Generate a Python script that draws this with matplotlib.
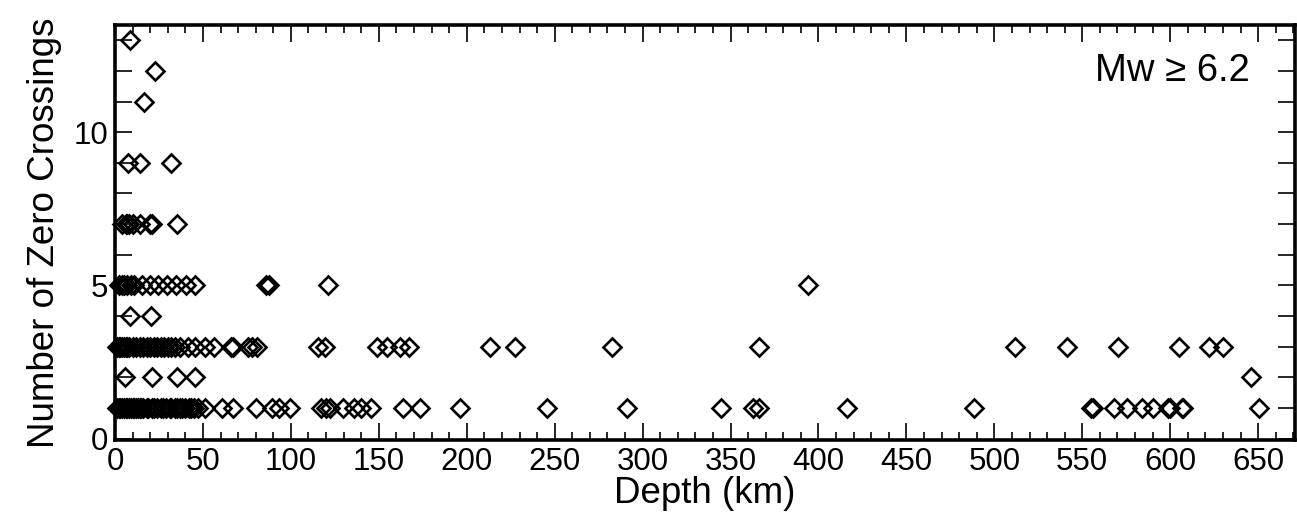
import matplotlib
matplotlib.use("Agg")
import matplotlib.pyplot as plt
from matplotlib.ticker import MultipleLocator

plt.rcParams['font.family'] = ['Liberation Sans', 'DejaVu Sans']

# Depth (km) of events, grouped by number of zero crossings
crossings_levels = [1, 2, 3, 4, 5, 7, 9, 11, 12, 13]

depth_n1 = [1, 2, 3, 4, 5, 6, 7, 8, 9, 10, 11, 12, 13, 14, 15, 16, 18, 19, 21, 22,
            24, 26, 27, 29, 31, 32, 34, 35, 37, 38, 40, 42, 43, 45, 47,
            51, 61, 67, 80, 89, 93, 99.6, 117, 120, 122, 129.5, 136, 140, 145.5,
            164, 173.5, 196, 245.5, 291, 344.5, 363, 366, 416, 488.5,
            555, 556, 568, 575.5, 584, 590.5, 599, 600, 606.5, 607.5, 650.5]
depth_n2 = [5.5, 21, 35, 45.5, 646]
depth_n3 = [1, 2, 3, 4, 5, 6, 7, 8, 10, 12, 14, 16, 18, 20, 22, 24, 26, 28, 30,
            32, 34, 37, 41.5, 45.5, 51, 56, 66, 67, 75.5, 78, 80.5, 115.5, 119.5,
            149, 154.5, 162, 167, 213, 227.5, 282.5, 366, 512, 541.5, 570.5,
            605, 622, 630]
depth_n4 = [8.5, 20.5]
depth_n5 = [2, 4, 5, 7, 9, 11, 15.5, 20, 24.5, 29.5, 34.5, 40.5, 45.5, 86, 87.5, 121, 394]
depth_n7 = [4, 6, 7, 8, 10, 14, 20, 21, 35]
depth_n9 = [7.5, 14, 32]
depth_n11 = [16.5]
depth_n12 = [22.5]
depth_n13 = [8.5]

groups = [depth_n1, depth_n2, depth_n3, depth_n4, depth_n5, depth_n7,
          depth_n9, depth_n11, depth_n12, depth_n13]

fig = plt.figure(figsize=(12.97, 5.19), dpi=100)
ax = fig.add_axes([0.0887, 0.152, 0.9098, 0.800])

for lvl, depths in zip(crossings_levels, groups):
    ax.plot(depths, [lvl] * len(depths), linestyle='none', marker='D',
            markersize=9, markerfacecolor='none', markeredgecolor='black',
            markeredgewidth=1.9, clip_on=False)

ax.set_xlim(0, 671)
ax.set_ylim(-0.05, 13.5)
ax.xaxis.set_major_locator(MultipleLocator(50))
ax.xaxis.set_minor_locator(MultipleLocator(10))
ax.yaxis.set_major_locator(MultipleLocator(5))
ax.yaxis.set_minor_locator(MultipleLocator(1))

ax.tick_params(which='both', direction='in', top=True, right=True, width=1.2,
               labelsize=22.5, colors='black')
ax.tick_params(axis='x', which='major', length=12.5, pad=5)
ax.tick_params(axis='x', which='minor', length=6)
ax.tick_params(axis='y', which='both', length=12, pad=5)

for s in ax.spines.values():
    s.set_linewidth(2.6)

ax.set_xlabel('Depth (km)', fontsize=26.5, labelpad=-1)
ax.set_ylabel('Number of Zero Crossings', fontsize=26.5, labelpad=8)

ax.text(0.962, 0.89, 'Mw \u2265 6.2', transform=ax.transAxes, ha='right',
        va='center', fontsize=27.5)

fig.savefig('out.png', dpi=100)
